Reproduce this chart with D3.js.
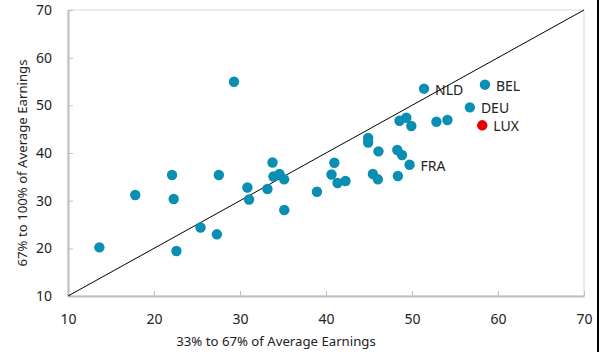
<!DOCTYPE html>
<html><head><meta charset="utf-8">
<script src="https://cdn.jsdelivr.net/npm/d3@7"></script>
<style>body{margin:0;background:#fff}svg{display:block}text{font-family:"Noto Sans","Open Sans",sans-serif;fill:#222}</style>
</head><body>
<svg id="c" width="600" height="352"></svg>
<script>
const countries = ["","","","","","","","","","","","","","","","","","","","","","","","","","","","FRA","","","","","","","","","NLD","BEL","DEU","LUX"];
const middleShare = [13.65,17.82,22.10,22.29,22.61,25.41,27.31,27.54,29.30,30.86,31.05,33.19,33.78,33.89,34.59,35.13,35.15,38.95,40.97,40.64,41.34,42.27,44.90,44.90,46.10,48.29,48.84,49.72,48.36,45.45,46.03,48.55,49.34,49.92,52.84,54.12,51.40,58.48,56.73,58.17];
const upperShare  = [20.2,31.19,35.38,30.35,19.44,24.37,22.94,35.38,54.95,32.76,30.24,32.45,38.0,35.07,35.59,34.48,28.04,31.88,37.96,35.49,33.70,34.12,43.14,42.20,40.35,40.63,39.58,37.54,35.17,35.59,34.48,46.77,47.40,45.66,46.56,46.92,53.49,54.33,49.58,45.81];
const highlight = ["LUX"];
const xTicks = [10,20,30,40,50,60,70];
const yTicks = [10,20,30,40,50,60,70];
const xTitle = "33% to 67% of Average Earnings";
const yTitle = "67% to 100% of Average Earnings";

const svg = d3.select("#c");
const L=68,R=584,T=10,B=296;
const x = d3.scaleLinear().domain([10,70]).range([L,R]);
const y = d3.scaleLinear().domain([10,70]).range([B,T]);
const data = middleShare.map((v,i)=>({x:v,y:upperShare[i],c:countries[i]}));

// frame
svg.append("rect").attr("x",L).attr("y",T).attr("width",R-L).attr("height",B-T)
  .attr("fill","none").attr("stroke","#d9d9d9").attr("stroke-width",1);
// x axis
const xa = svg.append("g").attr("transform",`translate(0,${B})`)
  .call(d3.axisBottom(x).tickValues(xTicks).tickSizeInner(-5).tickSizeOuter(0).tickPadding(18));
xa.select(".domain").attr("stroke","#bfbfbf").attr("stroke-width",2);
xa.selectAll(".tick line").attr("stroke","#bfbfbf");
xa.selectAll(".tick text").attr("font-size",14).attr("fill","#222").attr("font-family","Noto Sans");
const ya = svg.append("g").attr("transform",`translate(${L},0)`)
  .call(d3.axisLeft(y).tickValues(yTicks).tickSizeInner(-5).tickSizeOuter(0).tickPadding(16));
ya.select(".domain").attr("stroke","#bfbfbf").attr("stroke-width",2);
ya.selectAll(".tick line").attr("stroke","#bfbfbf");
ya.selectAll(".tick text").attr("font-size",14).attr("fill","#222").attr("font-family","Noto Sans");

// labels
svg.append("g").selectAll("text").data(data.filter(d=>d.c)).join("text")
  .attr("x",d=>x(d.x)+11).attr("y",d=>y(d.y)+1).attr("dy","0.35em")
  .attr("font-size",14).text(d=>d.c);

// diagonal
svg.append("line").attr("x1",x(10)).attr("y1",y(10)).attr("x2",x(70)).attr("y2",y(70))
  .attr("stroke","#000").attr("stroke-width",1);

// points
svg.append("g").selectAll("circle").data(data).join("circle")
  .attr("cx",d=>x(d.x)).attr("cy",d=>y(d.y)).attr("r",5.2)
  .attr("fill",d=>highlight.includes(d.c)?"#e60000":"#0a8eb1");

// titles
svg.append("text").attr("x",276).attr("y",346).attr("text-anchor","middle").attr("font-size",13.2).text(xTitle);
svg.append("text").attr("transform",`translate(27,${(T+B)/2+10}) rotate(-90)`).attr("text-anchor","middle").attr("font-size",13.2).text(yTitle);

// right black edge
svg.append("line").attr("x1",598).attr("x2",598).attr("y1",0).attr("y2",352).attr("stroke","#000").attr("stroke-width",2);
</script>
</body></html>
